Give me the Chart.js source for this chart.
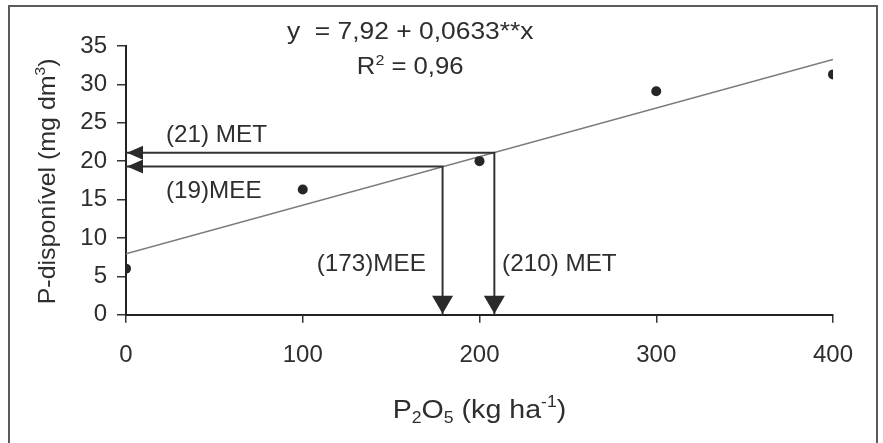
<!DOCTYPE html>
<html><head><meta charset="utf-8">
<script src="https://cdn.jsdelivr.net/npm/chart.js@4.4.1/dist/chart.umd.min.js"></script>
<style>html,body{margin:0;padding:0;background:#fff;overflow:hidden}#wrap{width:883px;height:443px;position:relative}</style>
</head><body><div id="wrap"><canvas id="c" width="883" height="443"></canvas></div>
<script>
// ---- data ----
const doses = [0, 100, 200, 300, 400];            // P2O5 (kg/ha)
const pDisp = [6.0, 16.3, 20.0, 29.1, 31.3];       // P-disponível (mg/dm3)
const trendX = [0, 400];
const trendY = [7.92, 33.24];                      // y = 7.92 + 0.0633x
const xTicks = [0, 100, 200, 300, 400];
const yTicks = [0, 5, 10, 15, 20, 25, 30, 35];
const metX = 208.4, metY = 21.1;                   // arrow MET
const meeX = 179.1, meeY = 19.3;                   // arrow MEE
const arrowLabels = ['(21) MET', '(19)MEE', '(210) MET', '(173)MEE'];
const eqLine1 = 'y  = 7,92 + 0,0633**x';

const FAM = '"Liberation Sans", Arial, sans-serif';
const TXT = '#2e2e2e';

function drawRich(ctx, parts, x, y, size, align, hs) {
  hs = hs || 1;
  let w = 0;
  const fs = p => (p.sub || p.sup) ? Math.round(size * 0.62) : size;
  for (const p of parts) { ctx.font = fs(p) + 'px ' + FAM; w += ctx.measureText(p.t).width; }
  ctx.save();
  ctx.translate(x, y); ctx.scale(hs, 1);
  let cx = align === 'center' ? -w / 2 : 0;
  ctx.textAlign = 'left'; ctx.textBaseline = 'alphabetic';
  for (const p of parts) {
    ctx.font = fs(p) + 'px ' + FAM;
    const dy = p.sub ? size * 0.22 : (p.sup ? -size * 0.4 : 0);
    ctx.fillText(p.t, cx, dy);
    cx += ctx.measureText(p.t).width;
  }
  ctx.restore();
}

const annot = {
  id: 'annot',
  beforeDraw(chart) {
    const c = chart.ctx; c.save(); c.fillStyle = '#fff'; c.fillRect(0, 0, chart.width, chart.height); c.restore();
  },
  afterDatasetsDraw(chart) {
    const c = chart.ctx, xs = chart.scales.x, ys = chart.scales.y, ca = chart.chartArea;
    const px = v => xs.getPixelForValue(v), py = v => ys.getPixelForValue(v);
    c.save();
    c.fillStyle = '#2a2a2a';
    const left = (yv) => { const x0 = px(0) + 1, y0 = py(yv); c.beginPath(); c.moveTo(x0, y0); c.lineTo(x0 + 16, y0 - 7); c.lineTo(x0 + 16, y0 + 7); c.closePath(); c.fill(); };
    const down = (xv) => { const x0 = px(xv), y0 = py(0) - 1; c.beginPath(); c.moveTo(x0, y0); c.lineTo(x0 - 10.5, y0 - 18); c.lineTo(x0 + 10.5, y0 - 18); c.closePath(); c.fill(); };
    left(metY); left(meeY); down(metX); down(meeX);
    c.fillStyle = TXT;
    drawRich(c, [{t: arrowLabels[0]}], px(22.6), py(22.5), 24, 'left', 1.01);
    drawRich(c, [{t: arrowLabels[1]}], px(22.6), py(15.2), 24, 'left', 1.01);
    drawRich(c, [{t: arrowLabels[2]}], px(212.8), py(5.75), 24, 'left', 1.01);
    drawRich(c, [{t: arrowLabels[3]}], px(107.9), py(5.75), 24, 'left', 1.01);
    drawRich(c, [{t: eqLine1}], px(160.8), py(35.9), 24, 'center', 1.1);
    drawRich(c, [{t: 'R'}, {t: '2', sup: true}, {t: ' = 0,96'}], px(160.8), py(31.3), 24, 'center', 1.07);
    drawRich(c, [{t: 'P'}, {t: '2', sub: true}, {t: 'O'}, {t: '5', sub: true}, {t: ' (kg ha'}, {t: '-1', sup: true}, {t: ')'}], (ca.left + ca.right) / 2, ca.bottom + 103, 26, 'center', 1.1);
    c.translate(ca.left - 71, (ca.top + ca.bottom) / 2 + 1);
    c.rotate(-Math.PI / 2);
    drawRich(c, [{t: 'P-disponível (mg dm'}, {t: '3', sup: true}, {t: ')'}], 0, 0, 24, 'center', 1.04);
    c.restore();
  },
  afterDraw(chart) {
    const c = chart.ctx; c.save();
    c.strokeStyle = '#5a5a5a'; c.lineWidth = 2;
    c.strokeRect(9, 6, 868, 460);
    c.restore();
  }
};

const pts = doses.map((x, i) => ({x, y: pDisp[i]}));
const trend = trendX.map((x, i) => ({x, y: trendY[i]}));
const metLine = [{x: 0, y: metY}, {x: metX, y: metY}, {x: metX, y: 0}];
const meeLine = [{x: 0, y: meeY}, {x: meeX, y: meeY}, {x: meeX, y: 0}];

const tickFont = {family: FAM, size: 24};
new Chart(document.getElementById('c'), {
  type: 'scatter',
  data: {datasets: [
    {data: pts, pointRadius: 5, pointHoverRadius: 5, backgroundColor: '#262626', borderColor: '#262626', borderWidth: 0, showLine: false, order: 0},
    {data: trend, showLine: true, pointRadius: 0, borderColor: '#7a7a7a', borderWidth: 1.5, order: 2},
    {data: metLine, showLine: true, pointRadius: 0, borderColor: '#333', borderWidth: 2, tension: 0, order: 1},
    {data: meeLine, showLine: true, pointRadius: 0, borderColor: '#333', borderWidth: 2, tension: 0, order: 1}
  ]},
  options: {
    responsive: false, animation: false, devicePixelRatio: 1,
    layout: {padding: {left: 0, top: 46, right: 50, bottom: 78.3}},
    plugins: {legend: {display: false}, tooltip: {enabled: false}},
    scales: {
      x: {type: 'linear', min: 0, max: 400,
        afterBuildTicks: s => { s.ticks = xTicks.map(v => ({value: v})); },
        afterFit: s => { s.height = 50; },
        grid: {drawOnChartArea: false, drawTicks: true, tickLength: 8, color: '#333', lineWidth: 1.5},
        border: {color: '#222', width: 2},
        ticks: {font: tickFont, color: TXT, padding: 18, maxRotation: 0, autoSkip: false}
      },
      y: {type: 'linear', min: 0, max: 35,
        afterBuildTicks: s => { s.ticks = yTicks.map(v => ({value: v})); },
        afterFit: s => { s.width = 126; },
        grid: {drawOnChartArea: false, drawTicks: true, tickLength: 9, color: '#333', lineWidth: 1.5},
        border: {color: '#222', width: 2},
        ticks: {font: tickFont, color: TXT, padding: 10, autoSkip: false}
      }
    }
  },
  plugins: [annot]
});
</script></body></html>
